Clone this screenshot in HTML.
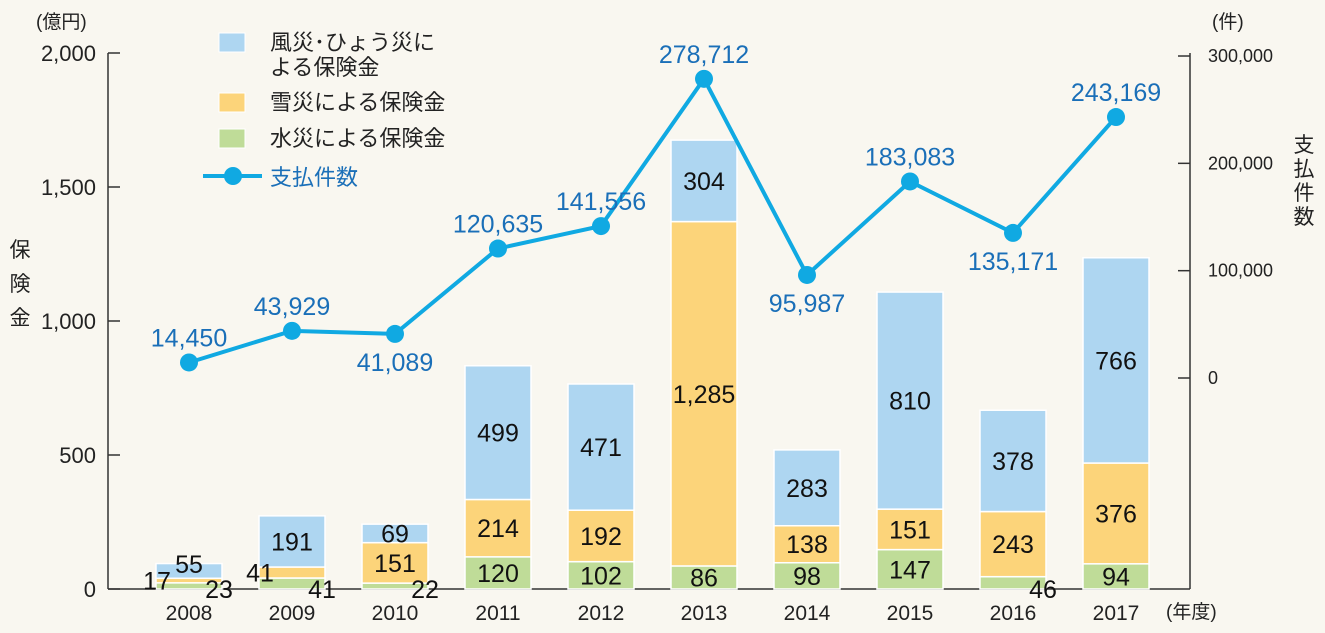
<!DOCTYPE html>
<html><head><meta charset="utf-8"><style>
body{margin:0;background:#f9f7f0}
svg{display:block;font-family:"Liberation Sans","Noto Sans CJK JP",sans-serif}
</style></head><body>
<svg id="c" width="1325" height="633">
<rect width="1325" height="633" fill="#f9f7f0"/>
<g id="axes"></g><g id="bars"></g><g id="line"></g>
<g font-size="22" fill="#222">
<rect x="219" y="33" width="26" height="19" fill="#aed6f1" stroke="#fff"/>
<text x="270" y="50">風災･ひょう災に</text>
<text x="270" y="75">よる保険金</text>
<rect x="219" y="93" width="26" height="19" fill="#fcd47a" stroke="#fff"/>
<text x="270" y="110">雪災による保険金</text>
<rect x="219" y="129" width="26" height="19" fill="#bfdc98" stroke="#fff"/>
<text x="270" y="146">水災による保険金</text>
<line x1="203" y1="176" x2="262" y2="176" stroke="#10a9e2" stroke-width="4"/>
<circle cx="233" cy="176" r="9" fill="#10a9e2"/>
<text x="270" y="185" fill="#1a6fb8">支払件数</text>
</g>
<text x="36" y="28" font-size="19" fill="#222">(億円)</text>
<text x="1212" y="28" font-size="19" fill="#222">(件)</text>
<text x="1166" y="618" font-size="19" fill="#222">(年度)</text>
<g font-size="21" fill="#222" text-anchor="middle">
<text x="20" y="257">保</text><text x="20" y="291">険</text><text x="20" y="325">金</text></g>
<g font-size="21" fill="#222" text-anchor="middle">
<text x="1304" y="152">支</text><text x="1304" y="176">払</text><text x="1304" y="200">件</text><text x="1304" y="224">数</text></g>
</svg>
<script>
const years=["2008","2009","2010","2011","2012","2013","2014","2015","2016","2017"];
const water=[23,41,22,120,102,86,98,147,46,94];
const snow=[17,41,151,214,192,1285,138,151,243,376];
const wind=[55,191,69,499,471,304,283,810,378,766];
const counts=[14450,43929,41089,120635,141556,278712,95987,183083,135171,243169];
const leftTicks=[0,500,1000,1500,2000];
const rightTicks=[0,100000,200000,300000];
const NS="http://www.w3.org/2000/svg";
const yL=v=>589-v*0.268;
const yR=v=>378-v*0.0010733;
const xB=i=>189+i*103;
const fmt=v=>v.toLocaleString('en-US');
function mk(t,a,p){const e=document.createElementNS(NS,t);for(const k in a)e.setAttribute(k,a[k]);p.appendChild(e);return e;}
const ax=document.getElementById('axes'),bg=document.getElementById('bars'),lg=document.getElementById('line');
let e=mk('line',{x1:108,y1:53,x2:108,y2:589,stroke:'#333','stroke-width':1.5},ax);


e=mk('line',{x1:108,y1:589,x2:1190,y2:589,stroke:'#333','stroke-width':1.5},ax);


e=mk('line',{x1:1190,y1:53,x2:1190,y2:589,stroke:'#333','stroke-width':1.5},ax);


leftTicks.forEach(v=>{const y=yL(v);
 e=mk('line',{x1:108,y1:y,x2:120,y2:y,stroke:'#333','stroke-width':1.5},ax);
 
 
 e=mk('text',{x:96,y:y+8,'font-size':22,'text-anchor':'end',fill:'#222'},ax);e.textContent=fmt(v);
 
 });
rightTicks.forEach(v=>{const y=yR(v);
 e=mk('line',{x1:1178,y1:y,x2:1190,y2:y,stroke:'#333','stroke-width':1.5},ax);
 
 
 e=mk('text',{x:1208,y:y+6,'font-size':18,fill:'#222'},ax);e.textContent=fmt(v);
 
 });
years.forEach((yr,i)=>{const x=xB(i);
 e=mk('text',{x:x,y:620,'font-size':21,'text-anchor':'middle',fill:'#222'},ax);e.textContent=yr;
 
 
 let base=0;
 [[water,'#bfdc98','water'],[snow,'#fcd47a','snow'],[wind,'#aed6f1','wind']].forEach(([arr,col,nm])=>{
  const v=arr[i],y0=yL(base),y1=yL(base+v);
  e=mk('rect',{x:x-33,y:y1,width:66,height:y0-y1,fill:col,stroke:'#fff','stroke-width':1.5},bg);
  
  
  base+=v;});
});
years.forEach((yr,i)=>{const x=xB(i);let base=0;
 [water,snow,wind].forEach((arr,k)=>{const v=arr[i];let lx=x,ly=yL(base+v/2)+9;
  if(v<60){ if(k===0){lx=x+30;ly=yL(0)+9;} else if(k===1){lx=x-32;ly=yL(base+v/2)+9;} else {lx=x;ly=yL(base+v/2)+2;} }
  e=mk('text',{x:lx,y:ly,'font-size':25,'text-anchor':'middle',fill:'#111'},bg);e.textContent=fmt(v);
  
  
  base+=v;});});
const pts=counts.map((c,i)=>xB(i)+','+yR(c)).join(' ');
e=mk('polyline',{points:pts,fill:'none',stroke:'#10a9e2','stroke-width':4},lg);


const below=[false,false,true,false,false,false,true,false,true,false];
counts.forEach((c,i)=>{const x=xB(i),y=yR(c);
 e=mk('circle',{cx:x,cy:y,r:9,fill:'#10a9e2'},lg);
 
 
 e=mk('text',{x:x,y:below[i]?y+37:y-16,'font-size':25,'text-anchor':'middle',fill:'#1a6fb8'},lg);e.textContent=fmt(c);
 
 });
</script>
</body></html>
